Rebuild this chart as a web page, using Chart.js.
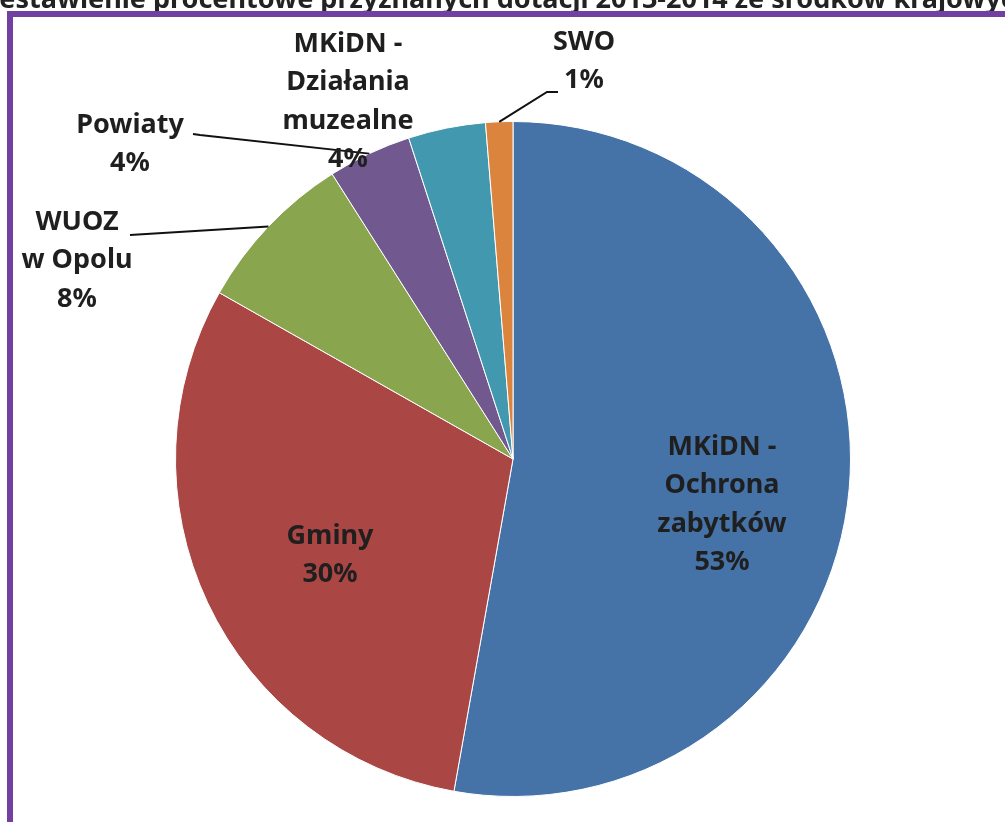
<!DOCTYPE html>
<html>
<head>
<meta charset="utf-8">
<script src="https://cdn.jsdelivr.net/npm/chart.js@4/dist/chart.umd.min.js"></script>
<style>
  html, body { margin: 0; padding: 0; background: #fff; overflow: hidden; }
  #wrap { position: relative; width: 1005px; height: 822px; }
  #frame {
    position: absolute; left: 7px; top: 11px; width: 1100px; height: 900px;
    border: 6px solid #7140A0; box-sizing: border-box; pointer-events: none;
  }
</style>
</head>
<body>
<div id="wrap">
  <canvas id="pieGraph" width="1005" height="822"></canvas>
  <div id="frame"></div>
</div>
<script>
const pieCtx = document.getElementById('pieGraph');

const chartTitle = 'Zestawienie procentowe przyznanych dotacji 2013-2014 ze środków krajowych';

const sliceNames = [
    ['MKiDN -', 'Ochrona', 'zabytków'],
    ['Gminy'],
    ['WUOZ', 'w Opolu'],
    ['Powiaty'],
    ['MKiDN -', 'Działania', 'muzealne'],
    ['SWO']
];
const sliceValues = [52.8, 30.4, 7.8, 4.0, 3.7, 1.3];
const sliceColors = ['#4572A7', '#AA4643', '#89A54E', '#71588F', '#4198AF', '#DB843D'];

// where the label text goes (centre x, first line y) and if it needs a leader line
const labelSpots = [
    { x: 722, y: 447, leader: null },
    { x: 330, y: 536, leader: null },
    { x: 77, y: 222, leader: [[130, 235]] },
    { x: 130, y: 125, leader: [[193, 134], [200, 135]] },
    { x: 348, y: 44, leader: null },
    { x: 584, y: 42, leader: [[558, 92], [547, 92]] }
];

const lineGap = 38.5;

const titlePlugin = {
    id: 'cutTitle',
    beforeDraw(chart) {
        const c = chart.ctx;
        c.save();
        c.fillStyle = '#222';
        c.font = 'bold 27px "Noto Sans"';
        c.textAlign = 'center';
        c.textBaseline = 'alphabetic';
        c.fillText(chartTitle, 508, 8);
        c.restore();
    }
};

const labelPlugin = {
    id: 'sliceLabels',
    afterDatasetsDraw(chart) {
        const c = chart.ctx;
        const meta = chart.getDatasetMeta(0);
        const total = sliceValues.reduce((a, b) => a + b, 0);
        c.save();
        meta.data.forEach((arc, i) => {
            const spot = labelSpots[i];
            if (spot.leader) {
                const p = arc.getProps(['x', 'y', 'startAngle', 'endAngle', 'outerRadius'], true);
                const mid = (p.startAngle + p.endAngle) / 2;
                const ex = p.x + Math.cos(mid) * p.outerRadius;
                const ey = p.y + Math.sin(mid) * p.outerRadius;
                c.strokeStyle = '#111';
                c.lineWidth = 2;
                c.beginPath();
                c.moveTo(spot.leader[0][0], spot.leader[0][1]);
                for (let k = 1; k < spot.leader.length; k++) {
                    c.lineTo(spot.leader[k][0], spot.leader[k][1]);
                }
                c.lineTo(ex, ey);
                c.stroke();
            }
            const lines = sliceNames[i].concat([Math.round(sliceValues[i] / total * 100) + '%']);
            c.fillStyle = '#1f1f1f';
            c.font = 'bold 27px "Noto Sans"';
            c.textAlign = 'center';
            c.textBaseline = 'middle';
            lines.forEach((t, k) => {
                c.fillText(t, spot.x, spot.y + k * lineGap);
            });
        });
        c.restore();
    }
};

let pieChart = new Chart(pieCtx, {
    type: 'pie',
    data: {
        labels: sliceNames.map((n) => n.join(' ')),
        datasets: [
            {
                data: sliceValues,
                backgroundColor: sliceColors,
                borderColor: '#ffffff',
                borderWidth: 1
            }
        ]
    },
    options: {
        responsive: false,
        animation: false,
        layout: {
            padding: { left: 175, right: 154, top: 121, bottom: 25 }
        },
        plugins: {
            legend: { display: false },
            title: { display: false },
            tooltip: { enabled: false }
        }
    },
    plugins: [titlePlugin, labelPlugin]
});
</script>
</body>
</html>
